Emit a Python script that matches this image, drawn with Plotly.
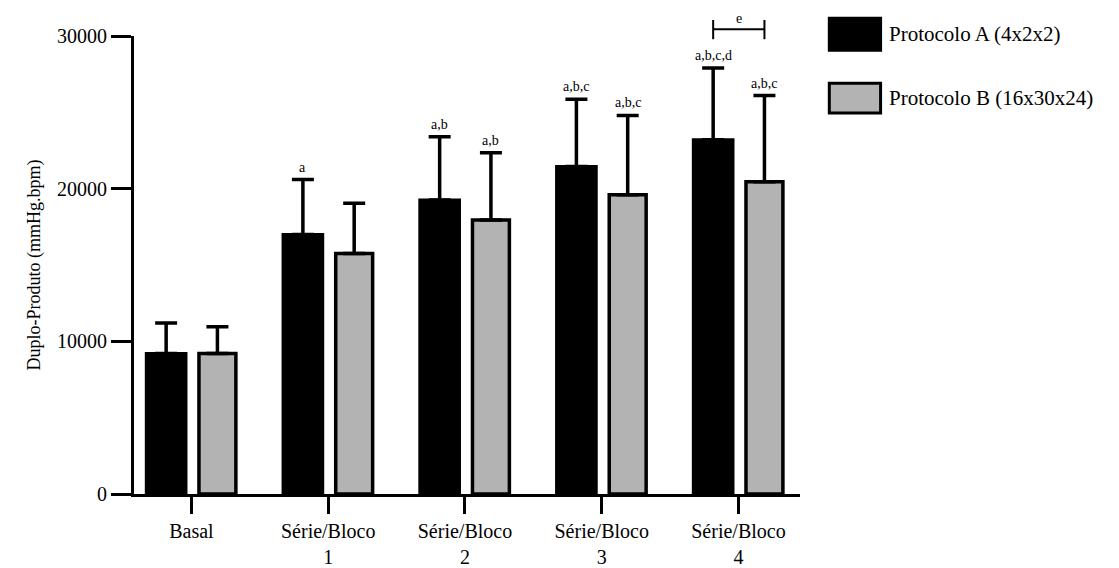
import plotly.graph_objects as go

categories = ["Basal", "Série/Bloco<br>1", "Série/Bloco<br>2", "Série/Bloco<br>3", "Série/Bloco<br>4"]
prot_a_mean = [9200, 17000, 19250, 21450, 23200]
prot_a_sd = [2000, 3600, 4150, 4400, 4700]
prot_b_mean = [9200, 15750, 17950, 19600, 20450]
prot_b_sd = [1750, 3300, 4400, 5200, 5650]
labels_a = ["", "a", "a,b", "a,b,c", "a,b,c,d"]
labels_b = ["", "", "a,b", "a,b,c", "a,b,c"]
series_names = ["Protocolo A (4x2x2)", "Protocolo B (16x30x24)"]
y_ticks = [0, 10000, 20000, 30000]

x = list(range(len(categories)))
FONT = "Liberation Serif"
W = 0.29
OFF_A = -0.33
OFF_B = 0.055

fig = go.Figure()
fig.add_trace(go.Bar(
    x=x, y=prot_a_mean, width=W, offset=OFF_A,
    marker=dict(color="black", line=dict(color="black", width=3)),
    error_y=dict(type="data", symmetric=False, array=prot_a_sd, arrayminus=[0]*5,
                 color="black", thickness=3.5, width=11),
    name=series_names[0], showlegend=False,
))
fig.add_trace(go.Bar(
    x=x, y=prot_b_mean, width=W - 0.02, offset=OFF_B,
    marker=dict(color="#b3b3b3", line=dict(color="black", width=3.5)),
    error_y=dict(type="data", symmetric=False, array=prot_b_sd, arrayminus=[0]*5,
                 color="black", thickness=3.5, width=11),
    name=series_names[1], showlegend=False,
))

annotations = []
for i in x:
    if labels_a[i]:
        annotations.append(dict(x=i + OFF_A + W / 2, y=prot_a_mean[i] + prot_a_sd[i],
                                xref="x", yref="y", text=labels_a[i], showarrow=False,
                                yanchor="bottom", yshift=3,
                                font=dict(family=FONT, size=14, color="black")))
    if labels_b[i]:
        annotations.append(dict(x=i + OFF_B + (W - 0.02) / 2, y=prot_b_mean[i] + prot_b_sd[i],
                                xref="x", yref="y", text=labels_b[i], showarrow=False,
                                yanchor="bottom", yshift=3,
                                font=dict(family=FONT, size=14, color="black")))

# significance bracket "e" between the two protocols at Série/Bloco 4
xa = 4 + OFF_A + W / 2
xb = 4 + OFF_B + (W - 0.02) / 2
shapes = [
    dict(type="line", xref="x", yref="paper", x0=xa, x1=xb, y0=1.015, y1=1.015,
         line=dict(color="black", width=2)),
    dict(type="line", xref="x", yref="paper", x0=xa, x1=xa, y0=0.993, y1=1.035,
         line=dict(color="black", width=2)),
    dict(type="line", xref="x", yref="paper", x0=xb, x1=xb, y0=0.993, y1=1.035,
         line=dict(color="black", width=2)),
]
annotations.append(dict(x=(xa + xb) / 2, y=1.017, xref="x", yref="paper", text="e",
                        showarrow=False, yanchor="bottom",
                        font=dict(family=FONT, size=14, color="black")))

# custom legend (large swatches)
legend_fill = ["black", "#b3b3b3"]
legend_y = [(1.039, 0.969), (0.897, 0.832)]
for k in range(2):
    shapes.append(dict(type="rect", xref="paper", yref="paper",
                       x0=1.044, x1=1.121, y0=legend_y[k][1], y1=legend_y[k][0],
                       fillcolor=legend_fill[k], line=dict(color="black", width=3)))
    annotations.append(dict(x=1.131, y=(legend_y[k][0] + legend_y[k][1]) / 2,
                            xref="paper", yref="paper", text=series_names[k],
                            showarrow=False, xanchor="left", yanchor="middle",
                            font=dict(family=FONT, size=21, color="black")))

fig.update_layout(
    width=1111, height=560,
    margin=dict(l=126, r=319, t=28, b=74, autoexpand=False),
    paper_bgcolor="white", plot_bgcolor="white",
    barmode="group",
    font=dict(family=FONT, size=20, color="black"),
    shapes=shapes, annotations=annotations,
)
fig.update_xaxes(
    range=[-0.42, 4.45], tickvals=x, ticktext=categories,
    showline=True, linecolor="black", linewidth=3,
    ticks="outside", ticklen=17, tickwidth=3, tickcolor="black",
    showgrid=False, zeroline=False, automargin=False,
    tickfont=dict(family=FONT, size=20, color="black"),
)
fig.update_yaxes(
    range=[0, 30000], tickvals=y_ticks, ticktext=[str(v) for v in y_ticks],
    showline=True, linecolor="black", linewidth=3,
    ticks="outside", ticklen=20, tickwidth=3, tickcolor="black",
    showgrid=False, zeroline=False, automargin=False,
    title=dict(text="Duplo-Produto (mmHg.bpm)", font=dict(family=FONT, size=18, color="black"),
               standoff=12),
    tickfont=dict(family=FONT, size=20, color="black"),
)

fig.write_html("out.html")
